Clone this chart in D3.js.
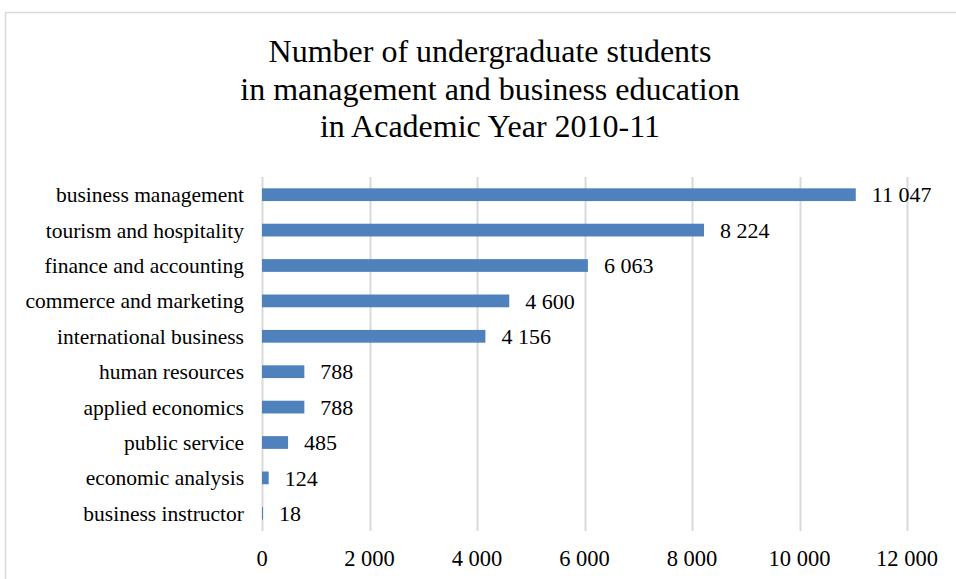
<!DOCTYPE html>
<html>
<head>
<meta charset="utf-8">
<script src="https://cdn.jsdelivr.net/npm/d3@7"></script>
<style>
  body { margin: 0; background: #fff; }
  svg text { font-family: "Liberation Serif", "Times New Roman", serif; fill: #000; }
</style>
</head>
<body>
<svg id="chart" width="956" height="579"></svg>
<script>
var categories = ["business management", "tourism and hospitality", "finance and accounting",
  "commerce and marketing", "international business", "human resources",
  "applied economics", "public service", "economic analysis", "business instructor"];
var students = [11047, 8224, 6063, 4600, 4156, 788, 788, 485, 124, 18];
var xTicks = [0, 2000, 4000, 6000, 8000, 10000, 12000];
var titleLines = ["Number of undergraduate students",
  "in management and business education",
  "in Academic Year 2010-11"];

var locale = d3.formatLocale({ decimal: ".", thousands: " ", grouping: [3], currency: ["", ""] });
var fmt = locale.format(",d");

var svg = d3.select("#chart");

// chart frame
svg.append("rect")
  .attr("x", 5.5).attr("y", 12.5)
  .attr("width", 1000).attr("height", 700)
  .attr("fill", "none").attr("stroke", "#d9d9d9").attr("stroke-width", 1.5);

var x = d3.scaleLinear().domain([0, 12000]).range([262, 907]);
var y = d3.scaleBand().domain(categories).range([177, 531]).paddingInner(0.64).paddingOuter(0.32);

// title
svg.append("g").selectAll("text")
  .data(titleLines)
  .enter().append("text")
  .attr("x", 490)
  .attr("y", function(d, i) { return 62 + i * 37.5; })
  .attr("text-anchor", "middle")
  .style("font-size", "32px")
  .text(function(d) { return d; });

// gridlines
svg.append("g").selectAll("line")
  .data(xTicks)
  .enter().append("line")
  .attr("x1", function(d) { return Math.round(x(d)) + 0.5; })
  .attr("x2", function(d) { return Math.round(x(d)) + 0.5; })
  .attr("y1", 177).attr("y2", 531)
  .attr("stroke", "#d9d9d9").attr("stroke-width", 2);

// x axis labels
svg.append("g").selectAll("text")
  .data(xTicks)
  .enter().append("text")
  .attr("x", function(d) { return x(d); })
  .attr("y", 566)
  .attr("text-anchor", "middle")
  .style("font-size", "22.5px")
  .text(function(d) { return fmt(d); });

// bars
svg.append("g").selectAll("rect")
  .data(students)
  .enter().append("rect")
  .attr("x", x(0))
  .attr("y", function(d, i) { return y(categories[i]); })
  .attr("width", function(d) { return x(d) - x(0); })
  .attr("height", y.bandwidth())
  .attr("fill", "#4f81bd");

// value labels
svg.append("g").selectAll("text")
  .data(students)
  .enter().append("text")
  .attr("x", function(d) { return x(d) + 16; })
  .attr("y", function(d, i) { return y(categories[i]) + y.bandwidth() / 2; })
  .attr("dy", "0.35em")
  .style("font-size", "22px")
  .text(function(d) { return fmt(d); });

// category labels
svg.append("g").selectAll("text")
  .data(categories)
  .enter().append("text")
  .attr("x", 244)
  .attr("y", function(d) { return y(d) + y.bandwidth() / 2; })
  .attr("dy", "0.35em")
  .attr("text-anchor", "end")
  .style("font-size", "21.5px")
  .text(function(d) { return d; });
</script>
</body>
</html>
